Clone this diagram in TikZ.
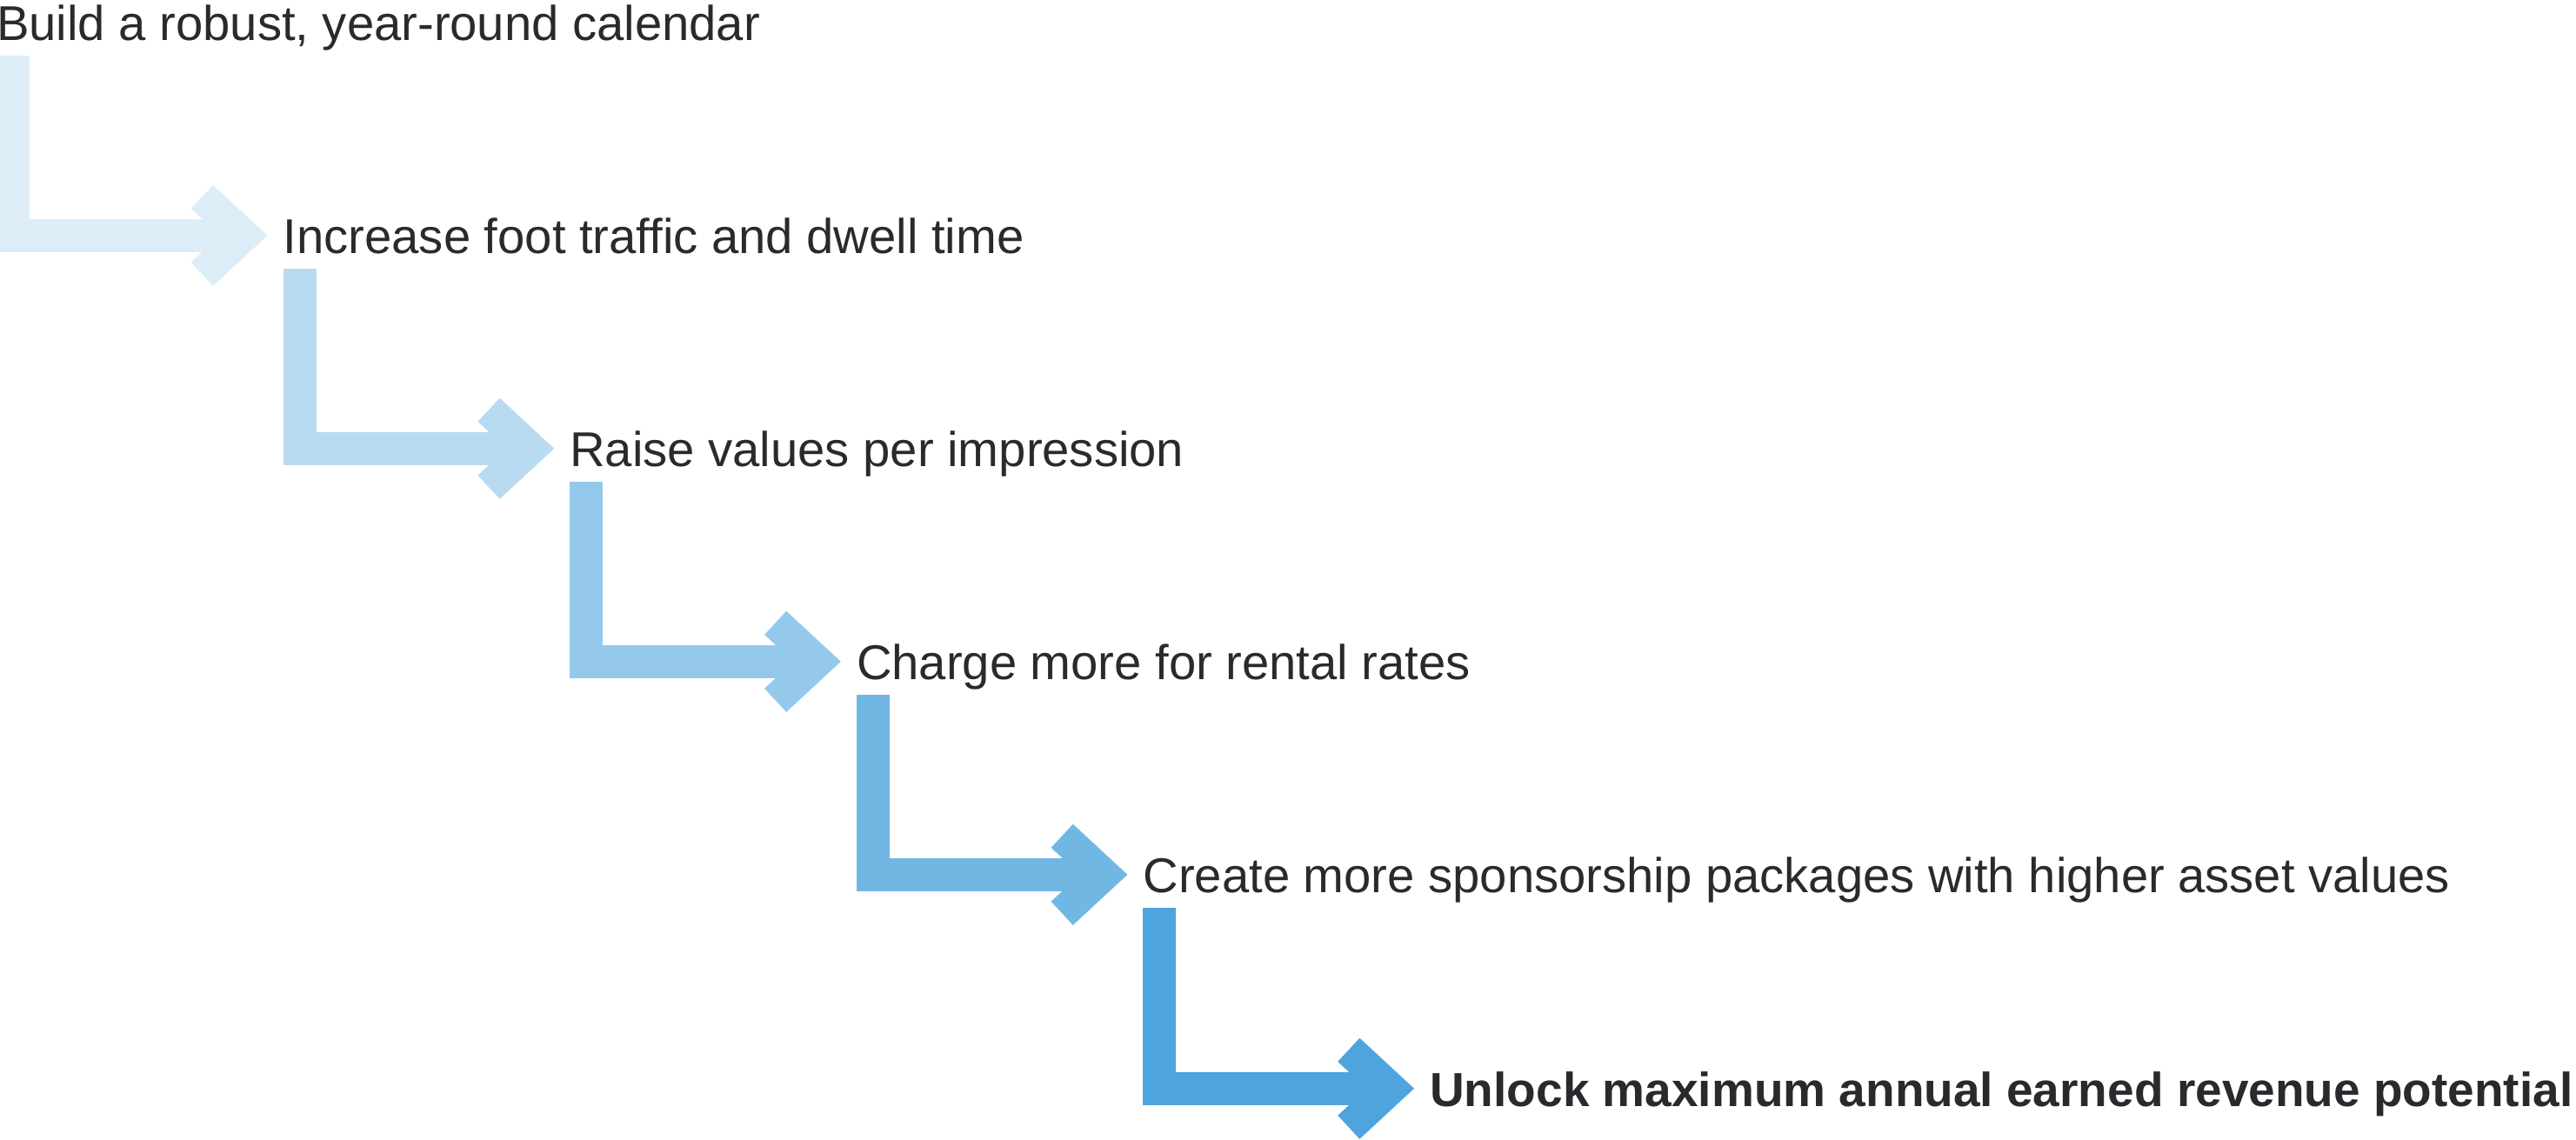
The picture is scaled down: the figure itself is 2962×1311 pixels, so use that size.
\documentclass[tikz,border=0pt]{standalone}
\usepackage{fontspec}
\setmainfont{Liberation Sans}
\usetikzlibrary{calc,arrows.meta}
\definecolor{stepblue}{HTML}{4EA5DD}
\definecolor{steptext}{HTML}{2A2A2E}
\tikzset{
  stage/.style={anchor=south west,inner xsep=18pt,inner ysep=0pt,
    text height=42pt,text depth=0pt,text=steptext,
    font=\fontsize{56.2}{60}\selectfont},
  flow/.style={line width=38pt,
    -{Straight Barb[sharp,length=48pt 0 0,width=89pt 0 0,line width=37pt 0 0]}}
}
\begin{document}
\begin{tikzpicture}[x=1pt,y=1pt]
        \useasboundingbox (0,0) rectangle (2962,-1311);
        \begin{scope}
          \node[stage] (CAL)  at (-22,-47)    {Build a robust, year-round calendar};
          \node[stage] (FT)   at (307.6,-292) {Increase foot traffic and dwell time};
          \node[stage] (VAL)  at (637.2,-537) {Raise values per impression};
          \node[stage] (RENT) at (966.8,-782) {Charge more for rental rates};
          \node[stage] (SP)   at (1296.4,-1027) {Create more sponsorship packages with higher asset values};
          \node[stage,font=\fontsize{55}{60}\selectfont\bfseries] (REV) at (1626,-1273) {Unlock maximum annual earned revenue potential};

          \foreach \a/\b/\p in {CAL/FT/20,FT/VAL/40,VAL/RENT/60,RENT/SP/80,SP/REV/100} {
            \draw[flow,stepblue!\p] ($(\a.south west)+(37,-17)$) |- (\b.west);
          }
        \end{scope}
      \end{tikzpicture}
\end{document}
